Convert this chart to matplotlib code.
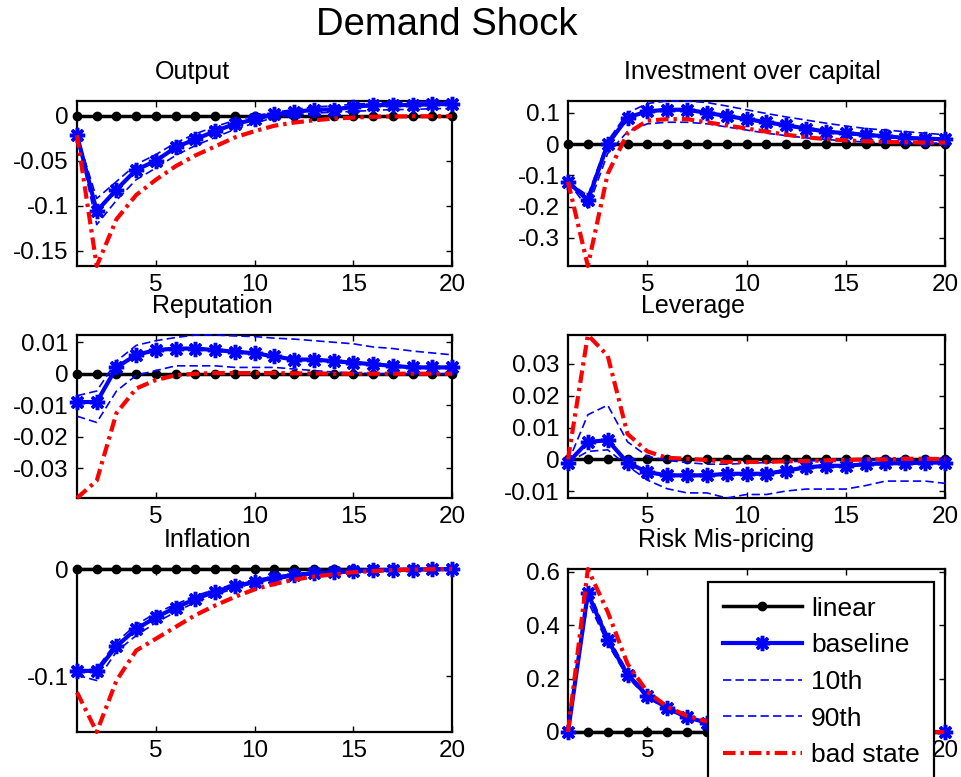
import numpy as np
import matplotlib
matplotlib.use("Agg")
import matplotlib.pyplot as plt

plt.rcParams['font.family'] = ['Liberation Sans', 'DejaVu Sans']
plt.rcParams['axes.unicode_minus'] = False

# horizon
t = np.arange(1, 21)

# ---- Output ----
output_lin = [0.0] * 20
output_base = [-0.0216, -0.106, -0.082, -0.060, -0.050, -0.035, -0.026, -0.017, -0.009, -0.004,
               0.002, 0.004, 0.007, 0.007, 0.010, 0.012, 0.012, 0.012, 0.013, 0.013]
output_p10 = [-0.0216, -0.121, -0.094, -0.071, -0.058, -0.044, -0.033, -0.024, -0.015, -0.008,
              -0.002, 0.001, 0.003, 0.004, 0.005, 0.006, 0.007, 0.007, 0.008, 0.008]
output_p90 = [-0.0216, -0.092, -0.073, -0.054, -0.043, -0.030, -0.020, -0.012, -0.005, 0.000,
              0.004, 0.007, 0.010, 0.011, 0.013, 0.014, 0.015, 0.015, 0.016, 0.0165]
output_bad = [-0.0216, -0.167, -0.115, -0.088, -0.071, -0.056, -0.044, -0.034, -0.024, -0.017,
              -0.011, -0.0075, -0.005, -0.003, -0.002, -0.001, -0.0007, -0.0005, -0.0005, -0.0005]

# ---- Investment over capital ----
inv_lin = [0.0] * 20
inv_base = [-0.12, -0.18, 0.0, 0.085, 0.105, 0.11, 0.11, 0.10, 0.09, 0.08,
            0.07, 0.06, 0.05, 0.04, 0.035, 0.03, 0.025, 0.02, 0.018, 0.015]
inv_p10 = [-0.12, -0.205, -0.03, 0.04, 0.065, 0.07, 0.07, 0.065, 0.055, 0.045,
           0.035, 0.027, 0.02, 0.015, 0.01, 0.007, 0.005, 0.004, 0.003, 0.003]
inv_p90 = [-0.12, -0.165, 0.01, 0.10, 0.13, 0.138, 0.138, 0.133, 0.122, 0.11,
           0.098, 0.087, 0.077, 0.067, 0.058, 0.05, 0.045, 0.04, 0.035, 0.03]
inv_bad = [-0.12, -0.39, -0.095, 0.035, 0.075, 0.08, 0.08, 0.07, 0.06, 0.05,
           0.04, 0.03, 0.022, 0.016, 0.012, 0.009, 0.007, 0.006, 0.005, 0.005]

# ---- Reputation ----
rep_lin = [0.0] * 20
rep_base = [-0.009, -0.009, 0.002, 0.006, 0.0075, 0.008, 0.008, 0.0075, 0.007, 0.0065,
            0.0055, 0.0045, 0.0045, 0.004, 0.0035, 0.003, 0.0025, 0.002, 0.002, 0.002]
rep_p10 = [-0.0135, -0.0155, -0.0055, -0.0005, 0.001, 0.0025, 0.0025, 0.0025, 0.002, 0.002,
           0.002, 0.0015, 0.001, 0.0005, 0.0003, 0.0, 0.0, 0.0, 0.0, 0.0]
rep_p90 = [-0.007, -0.0055, 0.004, 0.009, 0.0105, 0.0115, 0.0123, 0.0123, 0.012, 0.0118,
           0.0113, 0.011, 0.0105, 0.01, 0.0095, 0.0085, 0.008, 0.0072, 0.0066, 0.006]
rep_bad = [-0.0395, -0.034, -0.0125, -0.0047, -0.002, -0.0005, 0.0, 0.0002, 0.0002, 0.0002,
           0.0002, 0.0001, 0.0001, 0.0, 0.0, 0.0, 0.0, 0.0, 0.0, 0.0]

# ---- Leverage ----
lev_lin = [0.0] * 20
lev_base = [-0.001, 0.0055, 0.006, -0.001, -0.004, -0.005, -0.005, -0.005, -0.0045, -0.0045,
            -0.0045, -0.0035, -0.0025, -0.002, -0.002, -0.0015, -0.0012, -0.0012, -0.001, -0.001]
lev_p10 = [-0.001, 0.0025, 0.003, -0.002, -0.0065, -0.0092, -0.0105, -0.0105, -0.0121, -0.011,
           -0.011, -0.0099, -0.0093, -0.0093, -0.0093, -0.0082, -0.0068, -0.0068, -0.0068, -0.0075]
lev_p90 = [-0.001, 0.014, 0.017, 0.0055, 0.001, -0.0003, -0.001, -0.0015, -0.0015, -0.0012,
           -0.001, -0.0008, -0.0005, -0.0003, -0.0002, -0.0002, -0.0001, 0.0, 0.0, 0.0]
lev_bad = [0.0, 0.039, 0.0325, 0.008, 0.0025, 0.0005, 0.0002, -0.0002, -0.0008, -0.0008,
           -0.0008, -0.0006, -0.0005, -0.0003, -0.0002, 0.0, 0.0, 0.0002, 0.0002, 0.0001]

# ---- Inflation ----
inf_lin = [0.0] * 20
inf_base = [-0.095, -0.095, -0.072, -0.056, -0.045, -0.036, -0.028, -0.021, -0.016, -0.012,
            -0.008, -0.0055, -0.004, -0.003, -0.002, -0.001, -0.001, -0.0005, -0.0002, 0.0]
inf_p10 = [-0.099, -0.104, -0.077, -0.062, -0.05, -0.04, -0.031, -0.024, -0.018, -0.013,
           -0.01, -0.007, -0.005, -0.004, -0.003, -0.002, -0.0015, -0.001, -0.0005, -0.0002]
inf_p90 = [-0.095, -0.093, -0.068, -0.052, -0.041, -0.033, -0.025, -0.019, -0.014, -0.01,
           -0.007, -0.005, -0.003, -0.002, -0.001, -0.0008, -0.0005, -0.0003, -0.0001, 0.0]
inf_bad = [-0.115, -0.152, -0.104, -0.076, -0.065, -0.054, -0.043, -0.034, -0.026, -0.019,
           -0.014, -0.01, -0.007, -0.005, -0.003, -0.002, -0.001, -0.0005, -0.0002, 0.0]

# ---- Risk Mis-pricing ----
risk_lin = [0.0] * 20
risk_base = [0.0, 0.52, 0.345, 0.215, 0.135, 0.09, 0.055, 0.035, 0.022, 0.013,
             0.008, 0.005, 0.003, 0.002, 0.001, 0.0005, 0.0, 0.0, 0.0, 0.0]
risk_p10 = [0.0, 0.49, 0.33, 0.205, 0.128, 0.085, 0.052, 0.033, 0.02, 0.012,
            0.007, 0.004, 0.0025, 0.0015, 0.001, 0.0005, 0.0, 0.0, 0.0, 0.0]
risk_p90 = [0.0, 0.54, 0.36, 0.225, 0.14, 0.095, 0.058, 0.037, 0.024, 0.014,
            0.009, 0.0055, 0.0035, 0.002, 0.0012, 0.0006, 0.0, 0.0, 0.0, 0.0]
risk_bad = [0.0, 0.61, 0.45, 0.255, 0.15, 0.095, 0.06, 0.04, 0.025, 0.015,
            0.009, 0.006, 0.004, 0.002, 0.001, 0.0005, 0.0, 0.0, 0.0, 0.0]

titles = ["Output", "Investment over capital", "Reputation", "Leverage", "Inflation", "Risk Mis-pricing"]
series = [
    (output_lin, output_base, output_p10, output_p90, output_bad),
    (inv_lin, inv_base, inv_p10, inv_p90, inv_bad),
    (rep_lin, rep_base, rep_p10, rep_p90, rep_bad),
    (lev_lin, lev_base, lev_p10, lev_p90, lev_bad),
    (inf_lin, inf_base, inf_p10, inf_p90, inf_bad),
    (risk_lin, risk_base, risk_p10, risk_p90, risk_bad),
]
yticks = [
    [-0.15, -0.1, -0.05, 0],
    [-0.3, -0.2, -0.1, 0, 0.1],
    [-0.03, -0.02, -0.01, 0, 0.01],
    [-0.01, 0, 0.01, 0.02, 0.03],
    [-0.1, 0],
    [0, 0.2, 0.4, 0.6],
]
legend_labels = ["linear", "baseline", "10th", "90th", "bad state"]

# axes placement in pixels (left, top, right, bottom) of a 962x777 canvas
W, H = 962, 777
boxes = [(77, 101, 452, 266), (568, 101, 945, 266),
         (77, 335, 452, 498), (568, 335, 945, 498),
         (77, 569, 452, 732), (568, 569, 945, 732)]
title_x = [0.309, 0.49, 0.36, 0.332, 0.347, 0.42]

fig = plt.figure(figsize=(9.62, 7.77), dpi=100)
fig.text(447 / W, 1 - 25 / H, "Demand Shock", ha="center", va="center", fontsize=27.5)

fmt = lambda v: ("%g" % v)

handles = None
for i, ax_box in enumerate(boxes):
    l, tp, r, b = ax_box
    ax = fig.add_axes([l / W, 1 - b / H, (r - l) / W, (b - tp) / H])
    lin, base, p10, p90, bad = series[i]
    h1, = ax.plot(t, lin, color="black", lw=2.5, marker="o", ms=6, clip_on=False, zorder=3)
    h2, = ax.plot(t, base, color="blue", lw=3, marker=(8, 2, 0), ms=11, mew=2.5, clip_on=False, zorder=4)
    h3, = ax.plot(t, p10, color="blue", lw=1.2, ls=(0, (5, 2.5)), clip_on=False, zorder=4)
    h4, = ax.plot(t, p90, color="blue", lw=1.2, ls=(0, (5, 2.5)), clip_on=False, zorder=4)
    h5, = ax.plot(t, bad, color="red", lw=3, ls=(0, (3, 1.2, 0.8, 1.2)), clip_on=False, zorder=5)
    handles = [h1, h2, h3, h4, h5]

    allv = np.concatenate([lin, base, p10, p90, bad])
    ax.set_xlim(1, 20)
    ax.set_ylim(allv.min(), allv.max())
    ax.set_xticks([5, 10, 15, 20])
    ax.set_yticks(yticks[i])
    ax.set_yticklabels([fmt(v) for v in yticks[i]])
    ax.tick_params(direction="in", length=4, width=1, labelsize=17.5, pad=6,
                   top=True, right=True)
    for s in ax.spines.values():
        s.set_linewidth(1.6)
    ax.text(title_x[i], 1 + 29 / (b - tp), titles[i], transform=ax.transAxes,
            ha="center", va="center", fontsize=18)

leg = fig.legend(handles, legend_labels, loc="upper left",
                 bbox_to_anchor=(708 / W, 1 - 582 / H), borderaxespad=0,
                 fontsize=19, handlelength=3.0, handletextpad=0.35, labelspacing=0.48,
                 borderpad=0.55, fancybox=False, framealpha=1, edgecolor="black", numpoints=1)
leg.get_frame().set_linewidth(1.6)

fig.savefig("out.png", dpi=100)
